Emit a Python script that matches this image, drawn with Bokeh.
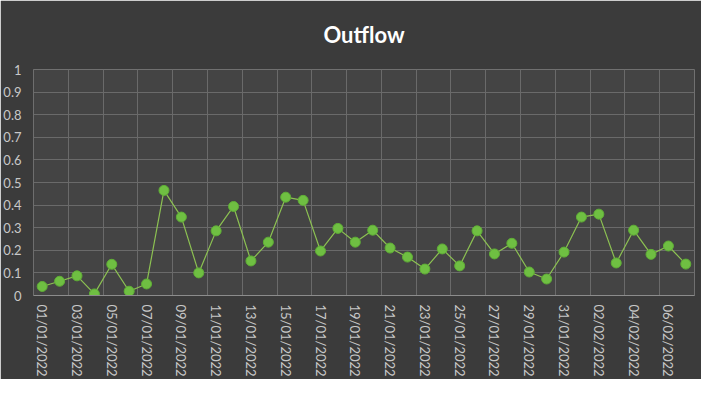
from bokeh.plotting import figure
from bokeh.models import FixedTicker, ColumnDataSource, Range1d
from bokeh.embed import file_html
from bokeh.resources import INLINE
import datetime as dt

# ---- data ----
start = dt.date(2022, 1, 1)
dates = [(start + dt.timedelta(days=i)).strftime("%d/%m/%Y") for i in range(38)]
outflow = [0.040, 0.063, 0.087, 0.007, 0.138, 0.019, 0.051, 0.465, 0.347, 0.100,
           0.286, 0.394, 0.153, 0.236, 0.435, 0.421, 0.197, 0.297, 0.236, 0.289,
           0.210, 0.170, 0.117, 0.206, 0.131, 0.286, 0.184, 0.231, 0.104, 0.073,
           0.192, 0.347, 0.360, 0.144, 0.289, 0.182, 0.219, 0.139]
y_ticks = [0, 0.1, 0.2, 0.3, 0.4, 0.5, 0.6, 0.7, 0.8, 0.9, 1]
y_labels = ["0", "0.1", "0.2", "0.3", "0.4", "0.5", "0.6", "0.7", "0.8", "0.9", "1"]
title_text = "Outflow"

idx = list(range(len(dates)))
src = ColumnDataSource(dict(x=idx, y=outflow, d=dates))

FONT = "Lato"
BG = "#3b3b3b"

p = figure(width=701, height=379, output_backend="svg", toolbar_location=None,
           x_range=Range1d(-0.5, len(dates) - 0.5), y_range=Range1d(0, 1),
           min_border_left=33, min_border_right=7, min_border_top=68, min_border_bottom=83,
           background_fill_color="#444444", border_fill_color=BG, outline_line_color=None)

p.title.text = title_text
p.title.align = "center"
p.title.vertical_align = "top"
p.title.text_color = "#ffffff"
p.title.text_font = FONT
p.title.text_font_size = "22px"
p.title.text_font_style = "bold"
p.title.standoff = 40

# y axis
p.yaxis.ticker = FixedTicker(ticks=y_ticks)
p.yaxis.major_label_overrides = {t: l for t, l in zip(y_ticks, y_labels)}
p.yaxis.major_label_text_color = "#c8c8c8"
p.yaxis.major_label_text_font = FONT
p.yaxis.major_label_text_font_size = "13px"
p.yaxis.axis_line_color = "#6e6e6e"
p.yaxis.major_tick_line_color = None
p.yaxis.minor_tick_line_color = None
p.yaxis.major_label_standoff = 6

# x axis
tick_pos = idx[::2]
p.xaxis.ticker = FixedTicker(ticks=tick_pos)
p.xaxis.major_label_overrides = {i: dates[i] for i in tick_pos}
p.xaxis.major_label_orientation = -1.5707963
p.xaxis.major_label_text_color = "#c8c8c8"
p.xaxis.major_label_text_font = FONT
p.xaxis.major_label_text_font_size = "13px"
p.xaxis.axis_line_color = "#8c8c8c"
p.xaxis.major_tick_line_color = None
p.xaxis.minor_tick_line_color = None
p.xaxis.major_label_standoff = 3

# grids
p.xgrid.ticker = FixedTicker(ticks=[i - 0.5 for i in idx[::2]] + [len(dates) - 0.5])
p.xgrid.grid_line_color = "#6a6a6a"
p.ygrid.grid_line_color = "#6a6a6a"

p.line("x", "y", source=src, line_color="#8cc152", line_width=1.2)
p.scatter("x", "y", source=src, size=10, fill_color="#6fbf42", line_color="#5fae36", line_width=1)

open("out.html", "w").write(file_html(p, INLINE))
